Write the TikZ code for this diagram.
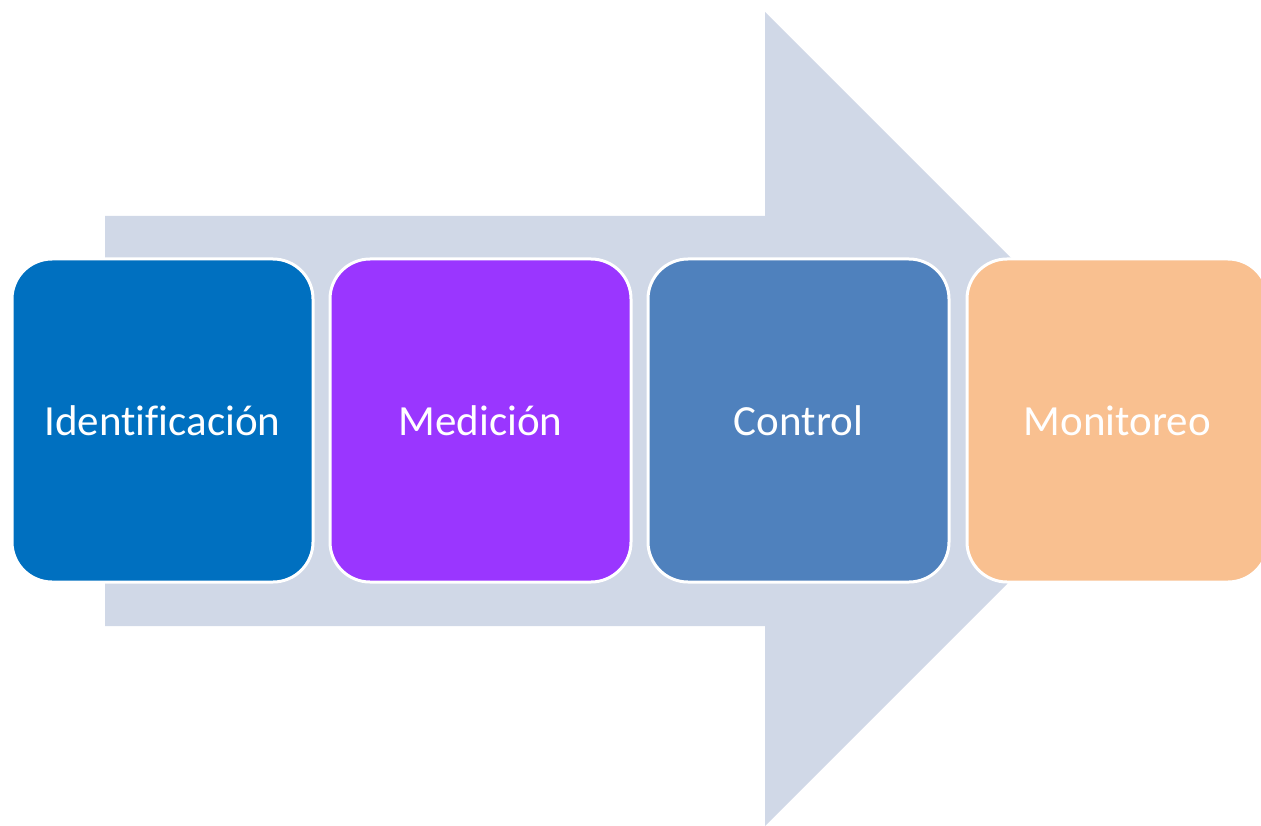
\documentclass[tikz,border=0pt]{standalone}
\usepackage{fontspec}
\setmainfont[Ligatures={NoCommon}]{Carlito}
\definecolor{arrowfill}{HTML}{D0D8E7}
\definecolor{cIdent}{HTML}{0070C0}
\definecolor{cMed}{HTML}{9A36FF}
\definecolor{cCtrl}{HTML}{4F81BD}
\definecolor{cMon}{HTML}{F9C090}
\begin{document}
\begin{tikzpicture}[x=1pt,y=-1pt,
  stage/.style={draw=white, line width=3pt, rounded corners=40pt,
    minimum width=301pt, minimum height=323pt, inner sep=0pt,
    text=white, font=\fontsize{43}{50}\selectfont}]
\useasboundingbox (0,0) rectangle (1261,826);
\clip (0,0) rectangle (1261,826);
\fill[arrowfill] (105,216) -- (765,216) -- (765,12) -- (1172,419) -- (765,826) -- (765,626) -- (105,626) -- cycle;
\node[stage, fill=cIdent] (ident) at (162.5,420.5) {Identificación};
\node[stage, fill=cMed] (med) at (480.5,420.5) {Medición};
\node[stage, fill=cCtrl] (ctrl) at (798.5,420.5) {Control};
\node[stage, fill=cMon] (mon) at (1117.5,420.5) {Monitoreo};
\end{tikzpicture}
\end{document}
